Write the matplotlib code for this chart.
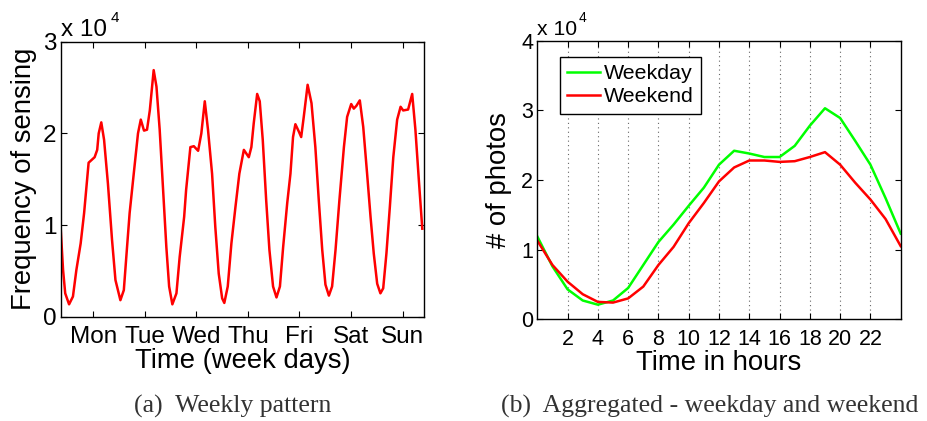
import matplotlib
matplotlib.use("Agg")
import matplotlib.pyplot as plt

plt.rcParams['font.family'] = ['Liberation Sans', 'DejaVu Sans']

# ---- Panel (a): weekly pattern (hours since start of week, value x 1e4) ----
week_hours = [0, 1.1, 2.1, 3.9, 5.7, 7.3, 9.3, 10.9, 13, 15.8, 17, 17.7, 18.9, 20.2, 22,
              23.9, 25.5, 27.8, 29.4, 30.9, 32.1, 34.2, 36, 37.3, 38.8, 40.2, 41.5,
              43.3, 44.6, 46.1, 47.7, 49.2, 50.5, 52, 53.9, 55.4, 57.5, 58.4, 60.4, 62,
              64, 65.5, 67.1, 68.6, 70.5, 72, 73.6, 75.2, 76.2, 77.8, 79.5, 81.4, 83.2,
              85.3, 87.6, 88.8, 89.9, 91.5, 92.7, 94.1, 95.7, 97.2, 98.9, 100.5, 102.1,
              103.6, 105.5, 107, 108.2, 109.3, 110.9, 112, 113.2, 115.0, 116.8, 118.6,
              120.2, 121.8, 123.3, 124.9, 126.4, 128, 129.8, 131.9, 133.4, 135.3,
              136.5, 137.7, 139.3, 140.9, 142.7, 144.3, 145.8, 147.4, 148.9, 150.2,
              151.7, 153.3, 154.9, 156.7, 158.3, 159.5, 161.8, 163.7, 165.2, 166.8, 168.4]
week_values = [0.96, 0.51, 0.255, 0.135, 0.22, 0.51, 0.80, 1.13, 1.68, 1.74, 1.82, 2.0,
               2.12, 1.93, 1.45, 0.84, 0.40, 0.18, 0.29, 0.76, 1.13, 1.6, 2.0, 2.15, 2.03,
               2.04, 2.25, 2.69, 2.51, 2.04, 1.38, 0.76, 0.33, 0.135, 0.255, 0.65, 1.09,
               1.38, 1.85, 1.86, 1.81, 2.0, 2.35, 2.04, 1.56, 0.98, 0.47, 0.20, 0.15, 0.33,
               0.80, 1.2, 1.56, 1.82, 1.74, 1.85, 2.11, 2.43, 2.35, 1.93, 1.27, 0.73, 0.33,
               0.21, 0.33, 0.76, 1.24, 1.56, 1.96, 2.10, 2.02, 1.96, 2.18, 2.53, 2.33,
               1.85, 1.27, 0.73, 0.35, 0.23, 0.33, 0.73, 1.27, 1.85, 2.18, 2.32, 2.27,
               2.30, 2.36, 2.07, 1.56, 1.09, 0.69, 0.36, 0.255, 0.31, 0.69, 1.2, 1.74,
               2.15, 2.29, 2.25, 2.26, 2.43, 2.04, 1.49, 0.96]
day_labels = ['Mon', 'Tue', 'Wed', 'Thu', 'Fri', 'Sat', 'Sun']
day_ticks = [15.2, 39.2, 63.2, 87.2, 111.2, 135.2, 159.2]

# ---- Panel (b): aggregated by hour (value x 1e4) ----
hours = list(range(25))
weekday = [1.19, 0.76, 0.43, 0.27, 0.21, 0.27, 0.45, 0.78, 1.11, 1.36, 1.63, 1.89, 2.22,
           2.42, 2.38, 2.33, 2.33, 2.49, 2.78, 3.03, 2.89, 2.56, 2.22, 1.74, 1.23]
weekend = [1.13, 0.78, 0.54, 0.36, 0.25, 0.24, 0.30, 0.47, 0.78, 1.04, 1.38, 1.67, 1.98,
           2.18, 2.28, 2.28, 2.26, 2.27, 2.33, 2.40, 2.22, 1.96, 1.72, 1.44, 1.05]
hour_ticks = [2, 4, 6, 8, 10, 12, 14, 16, 18, 20, 22]

W, H = 927, 421
fig = plt.figure(figsize=(W / 100, H / 100), dpi=100)

def box(x0, y0, x1, y1):
    return [x0 / W, 1 - y1 / H, (x1 - x0) / W, (y1 - y0) / H]

def style(ax, tsize):
    ax.tick_params(direction='in', top=True, right=True, length=4, width=0.8,
                   labelsize=tsize, colors='black')
    ax.tick_params(axis='x', pad=7)
    ax.tick_params(axis='y', pad=3)
    for s in ax.spines.values():
        s.set_linewidth(1.0)

# Panel (a)
ax1 = fig.add_axes(box(60.7, 41.7, 424, 316.7))
ax1.plot(week_hours, week_values, color='#ff0000', lw=1.8, solid_joinstyle='round')
ax1.set_xlim(0, 169.2)
ax1.set_ylim(0, 3)
ax1.set_yticks([0, 1, 2, 3])
ax1.set_xticks(day_ticks)
ax1.set_xticklabels(day_labels)
style(ax1, 17.5)
ax1.set_xlabel('Time (week days)', fontsize=19.8, labelpad=0)
ax1.set_ylabel('Frequency of sensing', fontsize=19.8)
ax1.yaxis.set_label_coords(-0.065, 0.5)

# Panel (b)
ax2 = fig.add_axes(box(537.3, 40.7, 900.7, 319.3))
ax2.plot(hours, weekday, color='#00ff00', lw=1.8, label='Weekday')
ax2.plot(hours, weekend, color='#ff0000', lw=1.8, label='Weekend')
ax2.set_xlim(0, 24)
ax2.set_ylim(0, 4)
ax2.set_yticks([0, 1, 2, 3, 4])
ax2.set_xticks(hour_ticks)
ax2.xaxis.grid(True, linestyle=(0, (1, 3)), color='#666666', lw=0.8)
style(ax2, 15.5)
ax2.set_xlabel('Time in hours', fontsize=19.8, labelpad=0)
ax2.set_ylabel('# of photos', fontsize=19.8)
ax2.yaxis.set_label_coords(-0.07, 0.5)
leg = ax2.legend(loc='upper left', bbox_to_anchor=((560 - 537.3) / 363.4, (319.3 - 56.7) / 278.6),
                 fontsize=15.4, frameon=True, fancybox=False, handlelength=1.5,
                 handletextpad=0.2, borderpad=0.35, labelspacing=0.2, borderaxespad=0)
leg.get_frame().set_edgecolor('black')
leg.get_frame().set_linewidth(1.0)
leg.get_frame().set_alpha(1)

# Multiplier labels
fig.text(61 / W, 1 - 36 / H, 'x 10', fontsize=17.5, va='baseline', ha='left')
fig.text(111 / W, 1 - 22 / H, '4', fontsize=11, va='baseline', ha='left')
fig.text(537 / W, 1 - 35 / H, 'x 10', fontsize=15.2, va='baseline', ha='left')
fig.text(579 / W, 1 - 22 / H, '4', fontsize=10, va='baseline', ha='left')

# Captions
fig.text(233 / W, 1 - 413 / H, '(a)  Weekly pattern', fontsize=18.5, ha='center',
         va='baseline', family='Liberation Serif', color='#333333')
fig.text(710 / W, 1 - 413 / H, '(b)  Aggregated - weekday and weekend', fontsize=18.5,
         ha='center', va='baseline', family='Liberation Serif', color='#333333')

fig.savefig('out.png', dpi=100)
